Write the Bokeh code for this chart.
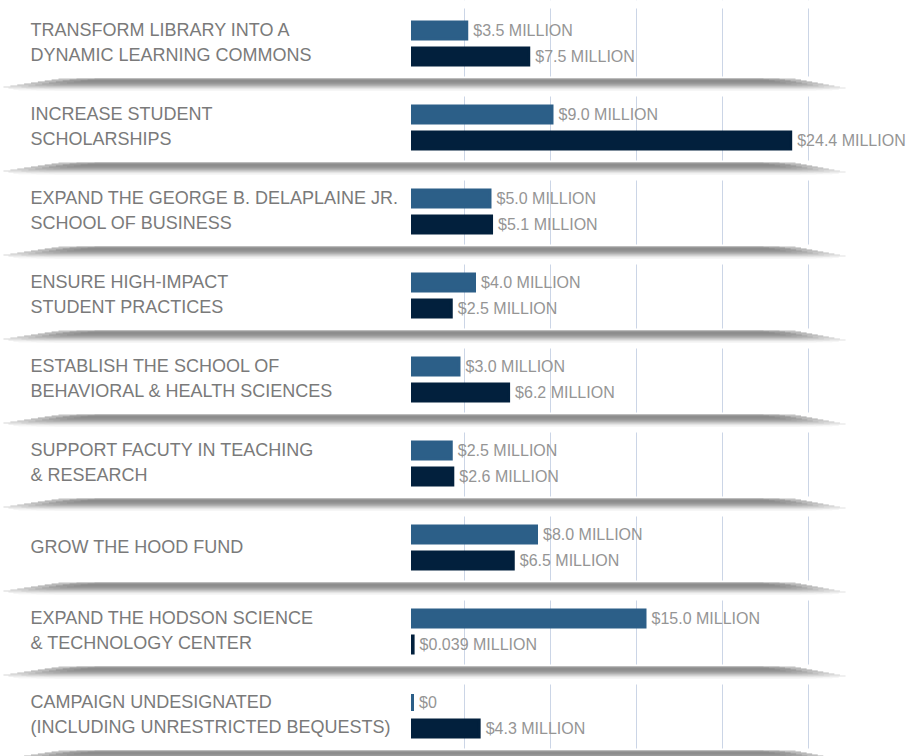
import numpy as np
from bokeh.plotting import figure
from bokeh.models import Range1d, FixedTicker, Grid
from bokeh.core.properties import value
from bokeh.embed import file_html
from bokeh.resources import INLINE

# ---------------- data ----------------
categories = [
    "TRANSFORM LIBRARY INTO A\nDYNAMIC LEARNING COMMONS",
    "INCREASE STUDENT\nSCHOLARSHIPS",
    "EXPAND THE GEORGE B. DELAPLAINE JR.\nSCHOOL OF BUSINESS",
    "ENSURE HIGH-IMPACT\nSTUDENT PRACTICES",
    "ESTABLISH THE SCHOOL OF\nBEHAVIORAL & HEALTH SCIENCES",
    "SUPPORT FACUTY IN TEACHING\n& RESEARCH",
    "GROW THE HOOD FUND",
    "EXPAND THE HODSON SCIENCE\n& TECHNOLOGY CENTER",
    "CAMPAIGN UNDESIGNATED\n(INCLUDING UNRESTRICTED BEQUESTS)",
]
goal = [3.5, 9.0, 5.0, 4.0, 3.0, 2.5, 8.0, 15.0, 0.0]
raised = [7.5, 24.4, 5.1, 2.5, 6.2, 2.6, 6.5, 0.039, 4.3]
goal_labels = ["$3.5 MILLION", "$9.0 MILLION", "$5.0 MILLION", "$4.0 MILLION",
               "$3.0 MILLION", "$2.5 MILLION", "$8.0 MILLION", "$15.0 MILLION", "$0"]
raised_labels = ["$7.5 MILLION", "$24.4 MILLION", "$5.1 MILLION", "$2.5 MILLION",
                 "$6.2 MILLION", "$2.6 MILLION", "$6.5 MILLION", "$0.039 MILLION",
                 "$4.3 MILLION"]

# ---------------- layout / style ----------------
W, H = 911, 756
n = len(categories)
ROW = H / n          # pixels per row band
S = 15.5             # pixels per $ million
X0 = 412             # pixel position of zero
BLUE = "#2c5f88"
NAVY = "#02203d"
GRID = "#cbd5e6"
LABEL = "#7a7a7a"
VALUE = "#959595"
FONT = value("Liberation Sans")

def px_x(px):
    return (px - X0) / S

def px_y(px):
    return px / ROW

x_lo, x_hi = px_x(0), px_x(W)

p = figure(width=W, height=H, output_backend="svg", toolbar_location=None,
           x_range=Range1d(x_lo, x_hi), y_range=Range1d(n, 0),
           x_axis_type=None, y_axis_type=None, min_border=0,
           outline_line_color=None, background_fill_color="white",
           border_fill_color="white")

# decorative vertical guide lines
grid_ticks = [px_x(X0 + 51.5 + 86 * k) for k in range(5)]
p.add_layout(Grid(dimension=0, ticker=FixedTicker(ticks=grid_ticks),
                  grid_line_color=GRID, grid_line_width=1))

idx = np.arange(n)

# white gaps in the guide lines around separators
sep_top = [(k + 1) * ROW - 6 for k in range(n)]
cov_top = [px_y(0)] + [px_y(t - 2) for t in sep_top]
cov_bot = [px_y(8)] + [px_y(t + 18) for t in sep_top]
p.quad(left=x_lo, right=x_hi, top=cov_top, bottom=cov_bot,
       fill_color="white", line_color=None)

# separators: tapered grey shadow bands made of thin strips
shades = [165, 140, 132, 134, 140, 150, 163, 178, 195, 212, 230, 244]
L, R, T, B, C = [], [], [], [], []
for t in sep_top:
    for d, g in enumerate(shades):
        left = 3 + (55 * (8 - d) / 8 if d < 8 else 20 * (d - 8) / 4)
        right = 795 + 50 * d / 9 if d <= 9 else 845 - 20 * (d - 9) / 3
        for j in range(3):
            L.append(px_x(left + 18 * j))
            R.append(px_x(right - 16 * j))
            T.append(px_y(t + d))
            B.append(px_y(t + d + 1))
            C.append("#%02x%02x%02x" % (g, g, g))
p.quad(left=L, right=R, top=T, bottom=B, fill_color=C, fill_alpha=0.7,
       line_color=None)

# bars
y1 = idx + px_y(30)
y2 = idx + px_y(56)
bh = px_y(17)
p.hbar(y=y1, left=0, right=goal, height=bh, fill_color=BLUE,
       line_color=BLUE, line_width=3, line_join="miter")
p.hbar(y=y2, left=0, right=raised, height=bh, fill_color=NAVY,
       line_color=NAVY, line_width=3, line_join="miter")

# value labels
p.text(x=goal, y=y1, text=goal_labels, x_offset=6.5, text_baseline="middle",
       text_align="left", text_font=FONT, text_font_size="16px",
       text_color=VALUE)
p.text(x=raised, y=y2, text=raised_labels, x_offset=6.5, text_baseline="middle",
       text_align="left", text_font=FONT, text_font_size="16px",
       text_color=VALUE)

# category labels
p.text(x=[x_lo] * n, y=idx + px_y(42), text=categories, x_offset=30,
       text_baseline="middle", text_align="left", text_font=FONT,
       text_font_size="18px", text_line_height=1.22, text_color=LABEL)

open("out.html", "w").write(file_html(p, INLINE))
